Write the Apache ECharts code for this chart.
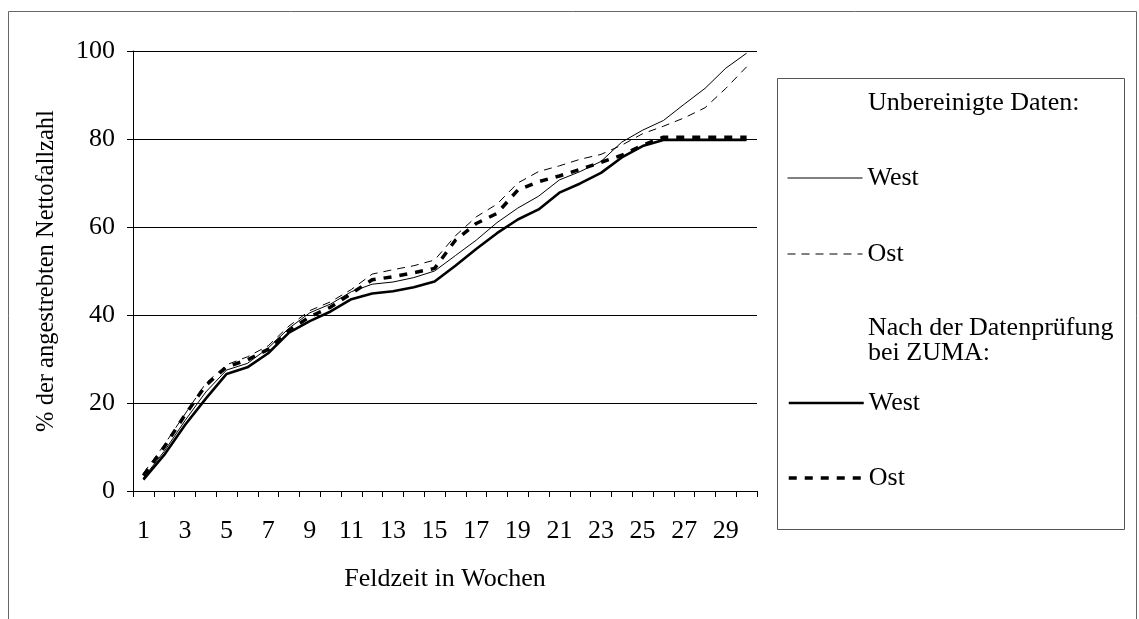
<!DOCTYPE html>
<html>
<head>
<meta charset="utf-8">
<title>Feldzeit in Wochen</title>
<script src="https://cdn.jsdelivr.net/npm/echarts@6/dist/echarts.min.js"></script>
<style>
  html,body{margin:0;padding:0;background:#fff;}
  #chart{width:1139px;height:619px;}
</style>
</head>
<body>
<div id="chart"></div>
<script>
const weeks = ['1','2','3','4','5','6','7','8','9','10','11','12','13','14','15','16','17','18','19','20','21','22','23','24','25','26','27','28','29','30'];
// Unbereinigte Daten
const westRaw = [3.0,9.0,16,22.5,27.5,29,32.5,37,40.5,42.5,45.3,47,47.5,48.5,50,53.5,57,61,64.3,67,70.7,72.6,74.9,79.3,82,84.2,87.9,91.5,96.1,99.5];
const ostRaw  = [4.0,10.5,17.5,24.5,28.7,30.5,33,37.5,41,43,45.8,49.3,50.3,51.2,52.5,58,62.3,65.2,70,72.6,73.9,75.4,76.5,78.6,81.2,82.9,84.8,87.1,91.5,96.4];
// Nach der Datenprüfung bei ZUMA
const westZuma = [2.6,8.2,15,21,26.6,28.1,31.3,36,38.6,40.8,43.6,44.9,45.4,46.3,47.6,51.2,55,58.6,61.7,64,67.8,69.9,72.3,75.8,78.4,79.8,79.8,79.8,79.8,79.8];
const ostZuma  = [3.5,10,17.3,24,28.2,29.8,32.2,36.5,39.6,41.8,44.9,48,48.7,49.6,50.6,57,60.8,63.1,68.4,70.3,71.6,73.1,74.7,76.3,78.6,80.4,80.4,80.4,80.4,80.4];
const yTicks = [0,20,40,60,80,100];

const FONT = '"Liberation Serif","Times New Roman",serif';
const chart = echarts.init(document.getElementById('chart'));

const styles = {
  'West unbereinigt':{width:1,type:'solid'},
  'Ost unbereinigt':{width:1,type:[8,6]},
  'West ZUMA':{width:2.6,type:'solid'},
  'Ost ZUMA':{width:3.5,type:[8,8]}
};

const mkSeries = (name, data) => ({
  name, type:'line', data, symbol:'none', showSymbol:false,
  itemStyle:{color:'#000'},
  lineStyle:Object.assign({color:'#000'}, styles[name])
});

const mkLegend = (names, top, gap) => ({
  data:names.map(n=>({name:n, lineStyle:Object.assign({color:'#000'}, styles[n]), itemStyle:{opacity:0}})),
  orient:'vertical', left:787, top, padding:0,
  itemWidth:75, itemHeight:14, itemGap:gap, selectedMode:false,
  itemStyle:{opacity:0},
  formatter:n=>n.split(' ')[0],
  textStyle:{fontFamily:FONT,fontSize:26,color:'#000'}
});

chart.setOption({
  animation:false,
  grid:{left:133,right:382,top:51,bottom:128},
  xAxis:{
    type:'category', data:weeks, boundaryGap:true,
    name:'Feldzeit in Wochen', nameLocation:'middle', nameGap:75,
    nameTextStyle:{fontFamily:FONT,fontSize:26,color:'#000'},
    axisLine:{lineStyle:{color:'#000',width:1}},
    axisTick:{show:true,interval:0,length:6,lineStyle:{color:'#000'}},
    axisLabel:{interval:1,margin:27,fontFamily:FONT,fontSize:26,color:'#000'}
  },
  yAxis:{
    type:'value', min:yTicks[0], max:yTicks[yTicks.length-1], interval:20,
    name:'% der angestrebten Nettofallzahl', nameLocation:'middle', nameGap:74,
    nameTextStyle:{fontFamily:FONT,fontSize:24.5,color:'#000'},
    axisLine:{show:true,lineStyle:{color:'#000',width:1}},
    axisTick:{show:true,length:6,lineStyle:{color:'#000'}},
    axisLabel:{margin:18,fontFamily:FONT,fontSize:26,color:'#000'},
    splitLine:{lineStyle:{color:'#000',width:1}}
  },
  legend:[
    mkLegend(['West unbereinigt','Ost unbereinigt'], 165, 50),
    mkLegend(['West ZUMA','Ost ZUMA'], 390, 49)
  ],
  graphic:[
    {type:'rect', shape:{x:8.5,y:11.5,width:1128,height:700}, style:{fill:'none',stroke:'#666',lineWidth:1}, silent:true},
    {type:'rect', shape:{x:777.5,y:78.5,width:347,height:451}, style:{fill:'none',stroke:'#555',lineWidth:1}, silent:true},
    {type:'text', left:868, top:90, style:{text:'Unbereinigte Daten:', font:'26px '+FONT, fill:'#000'}},
    {type:'text', left:868, top:315, style:{text:'Nach der Datenprüfung\nbei ZUMA:', font:'26px '+FONT, lineHeight:25, fill:'#000'}}
  ],
  series:[
    mkSeries('West unbereinigt', westRaw),
    mkSeries('Ost unbereinigt', ostRaw),
    mkSeries('West ZUMA', westZuma),
    mkSeries('Ost ZUMA', ostZuma)
  ]
});
</script>
</body>
</html>
